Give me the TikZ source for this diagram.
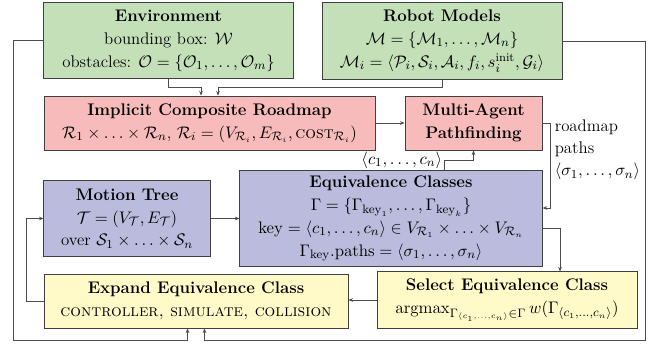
\documentclass[tikz,border=0pt]{standalone}
\usepackage{amsmath,amssymb}
\usetikzlibrary{arrows.meta,calc}
\definecolor{envgreen}{RGB}{196,224,184}
\definecolor{mapred}{RGB}{248,187,187}
\definecolor{treeblue}{RGB}{187,187,221}
\definecolor{stepyellow}{RGB}{255,250,200}
\tikzset{
  box/.style={draw=black!75, line width=0.6pt, align=center, inner sep=2pt,
    font=\fontsize{11}{15}\selectfont},
  lbl/.style={inner sep=1pt, font=\fontsize{11}{14.5}\selectfont},
  arr/.style={draw=black!70, line width=0.5pt, -{Stealth[length=3pt,width=2.4pt]}},
}
\begin{document}
\begin{tikzpicture}[x=0.023cm, y=0.023cm]
\useasboundingbox (0,0) rectangle (655,346);
\node[box, fill=envgreen, minimum width=5.73cm, minimum height=1.73cm] (env) at (168.5,305.5)
  {\textbf{Environment}\\ bounding box: $\mathcal{W}$\\ obstacles: $\mathcal{O}=\{\mathcal{O}_1,\ldots,\mathcal{O}_m\}$};
\node[box, fill=envgreen, minimum width=5.52cm, minimum height=1.75cm] (robot) at (442,305)
  {\textbf{Robot Models}\\ $\mathcal{M}=\{\mathcal{M}_1,\ldots,\mathcal{M}_n\}$\\
   $\mathcal{M}_i=\langle\mathcal{P}_i,\mathcal{S}_i,\mathcal{A}_i,f_i,s_i^{\text{init}},\mathcal{G}_i\rangle$};
\node[box, fill=mapred, minimum width=7.61cm, minimum height=1.24cm] (roadmap) at (209.5,223)
  {\textbf{Implicit Composite Roadmap}\\
   $\mathcal{R}_1\times\ldots\times\mathcal{R}_n$, $\mathcal{R}_i=(V_{\mathcal{R}_i},E_{\mathcal{R}_i},\textsc{cost}_{\mathcal{R}_i})$};
\node[box, fill=mapred, minimum width=3.15cm, minimum height=1.24cm] (mapf) at (473.5,223)
  {\textbf{Multi-Agent}\\ \textbf{Pathfinding}};
\node[box, fill=treeblue, minimum width=3.82cm, minimum height=1.73cm] (motion) at (127,127.5)
  {\textbf{Motion Tree}\\ $\mathcal{T}=(V_{\mathcal{T}},E_{\mathcal{T}})$\\ over $\mathcal{S}_1\times\ldots\times\mathcal{S}_n$};
\node[box, fill=treeblue, minimum width=6.95cm, minimum height=2.19cm] (eqc) at (391,127.5)
  {\textbf{Equivalence Classes}\\
   $\Gamma=\{\Gamma_{\mathrm{key}_1},\ldots,\Gamma_{\mathrm{key}_k}\}$\\
   $\mathrm{key}=\langle c_1,\ldots,c_n\rangle\in V_{\mathcal{R}_1}\times\ldots\times V_{\mathcal{R}_n}$\\
   $\Gamma_{\mathrm{key}}.\mathrm{paths}=\langle\sigma_1,\ldots,\sigma_n\rangle$};
\node[box, fill=stepyellow, minimum width=6.99cm, minimum height=1.24cm] (expand) at (196,45)
  {\textbf{Expand Equivalence Class}\\ \textsc{controller, simulate, collision}};
\node[box, fill=stepyellow, minimum width=5.98cm, minimum height=1.29cm] (select) at (507,46)
  {\textbf{Select Equivalence Class}\\
   $\operatorname{argmax}_{\Gamma_{\langle c_1,\ldots,c_n\rangle}\in\Gamma} w(\Gamma_{\langle c_1,\ldots,c_n\rangle})$};
\node[lbl, anchor=west, align=left] (pathlbl) at (553,196)
  {roadmap\\ paths\\ $\langle\sigma_1,\ldots,\sigma_n\rangle$};

\draw[arr] (env.south) -- (env.south |- 0,259) -| ($(roadmap.north)+(-8.5,0)$);
\draw[arr] (robot.south) -- (robot.south |- 0,259) -| ($(roadmap.north)+(8.5,0)$);
\draw[arr] (env.west) -| (13,6) -| ($(expand.south)+(-8.5,0)$);
\draw[arr] (robot.east) -| (645,6) -| ($(expand.south)+(8.5,0)$);
\draw[arr] (roadmap) -- (mapf);
\draw[arr] (mapf.east) -- ++(8,0) |- ($(eqc.east)+(0,10.5)$);
\draw[arr] ($(eqc.north)+(53,0)$) coordinate (ckey) -- (ckey |- 0,186)
  node[lbl, left] (keylbl) {$\langle c_1,\ldots,c_n\rangle$} -| (mapf.south);
\draw[arr] (motion) -- (eqc);
\draw[arr] ($(eqc.east)+(0,-9.5)$) -| ($(select.north)+(53,0)$);
\draw[arr] (select.west) -- (select.west -| expand.east);
\draw[arr] (expand.west) -- ++(-17,0) |- (motion.west);
\end{tikzpicture}
\end{document}
